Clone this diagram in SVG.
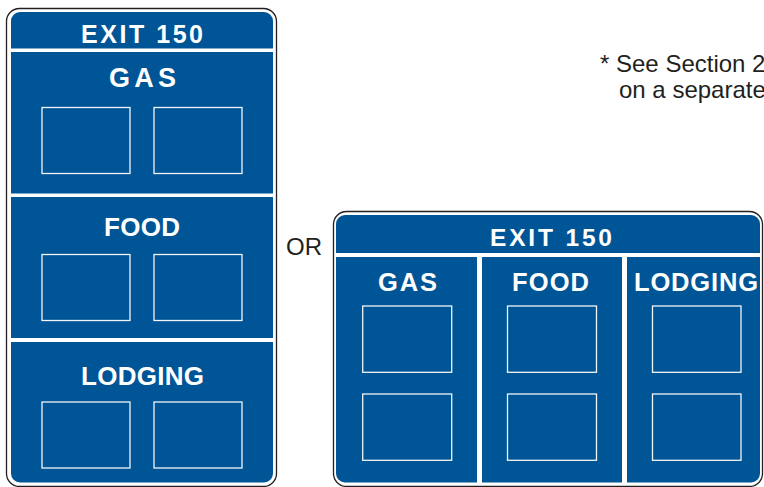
<svg xmlns="http://www.w3.org/2000/svg" width="764" height="487" viewBox="0 0 764 487">
<style>
.outline{fill:#fff;stroke:#231f20;stroke-width:1.3}
.blue{fill:#005596}
.div{fill:#fff}
.box{fill:#005596;stroke:#f2f5f9;stroke-width:1.3}
.st{fill:#fff;font-family:"Liberation Sans",Arial,sans-serif;font-weight:bold}
.note{fill:#231f20;font-family:"Liberation Sans",Arial,sans-serif;font-size:24px}
</style>
<rect width="764" height="487" fill="#fff"/>
<g id="sign-vertical">
<rect class="outline" x="6.5" y="8.5" width="270" height="478" rx="13"/>
<rect class="blue" x="11" y="12" width="262" height="470.5" rx="9"/>
<rect class="div" x="11" y="48.5" width="262" height="3.5"/>
<rect class="div" x="11" y="193.5" width="262" height="3.5"/>
<rect class="div" x="11" y="338" width="262" height="4"/>
<text class="st" x="81" y="43" font-size="25" textLength="122" lengthAdjust="spacing">EXIT 150</text>
<text class="st" x="109" y="87" font-size="27" textLength="67" lengthAdjust="spacing">GAS</text>
<text class="st" x="104" y="236" font-size="26" textLength="76" lengthAdjust="spacing">FOOD</text>
<text class="st" x="81" y="384.5" font-size="26" textLength="123" lengthAdjust="spacing">LODGING</text>
<rect class="box" x="42" y="107.5" width="88" height="66"/>
<rect class="box" x="154" y="107.5" width="88" height="66"/>
<rect class="box" x="42" y="254.5" width="88" height="66"/>
<rect class="box" x="154" y="254.5" width="88" height="66"/>
<rect class="box" x="42" y="402" width="88" height="66"/>
<rect class="box" x="154" y="402" width="88" height="66"/>
</g>
<g id="or-label">
<text class="note" x="286" y="255">OR</text>
</g>
<g id="sign-horizontal">
<rect class="outline" x="333.5" y="211.5" width="429" height="275" rx="13"/>
<rect class="blue" x="336" y="215" width="424" height="267.5" rx="9"/>
<rect class="div" x="336" y="253" width="424" height="4"/>
<rect class="div" x="477" y="253" width="5" height="230"/>
<rect class="div" x="622" y="253" width="5" height="230"/>
<text class="st" x="490" y="245.5" font-size="24.5" textLength="122" lengthAdjust="spacing">EXIT 150</text>
<text class="st" x="378" y="291" font-size="25.5" textLength="59" lengthAdjust="spacing">GAS</text>
<text class="st" x="512" y="291" font-size="25.5" textLength="77" lengthAdjust="spacing">FOOD</text>
<text class="st" x="634" y="291" font-size="25.5" textLength="124" lengthAdjust="spacing">LODGING</text>
<rect class="box" x="362.7" y="306" width="89" height="66.3"/>
<rect class="box" x="362.7" y="394" width="89" height="66.3"/>
<rect class="box" x="507.5" y="306" width="89" height="66.3"/>
<rect class="box" x="507.5" y="394" width="89" height="66.3"/>
<rect class="box" x="652.5" y="306" width="88.5" height="66.3"/>
<rect class="box" x="652.5" y="394" width="88.5" height="66.3"/>
</g>
<g id="note">
<text class="note" x="600" y="72">* See Section 2</text>
<text class="note" x="619" y="98">on a separate</text>
</g>
</svg>
